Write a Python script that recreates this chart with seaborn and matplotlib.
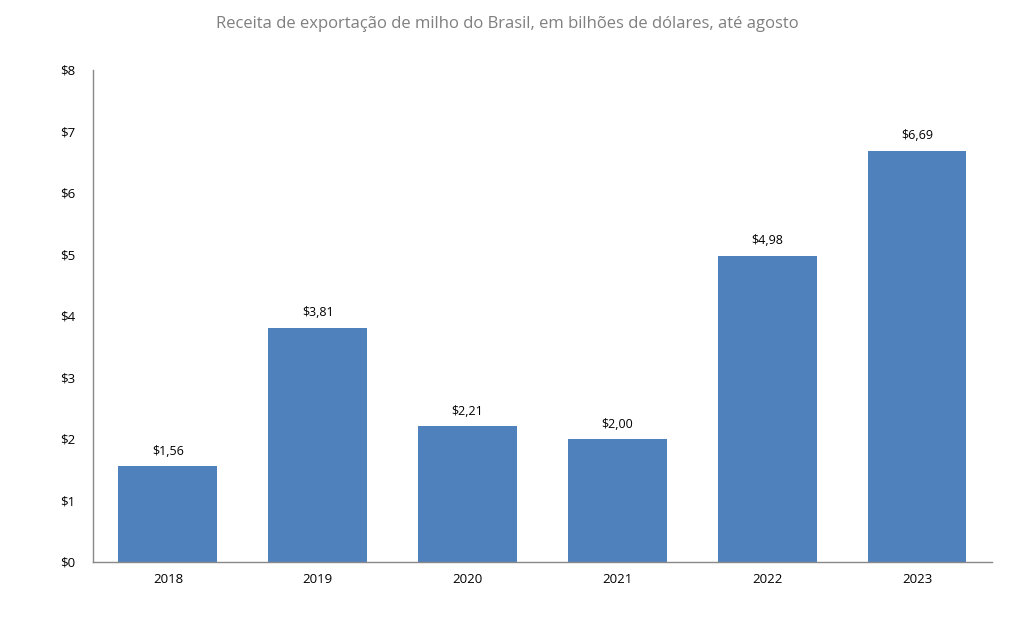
import seaborn as sns
import matplotlib.pyplot as plt
import pandas as pd

# Data
years = ['2018', '2019', '2020', '2021', '2022', '2023']
revenue = [1.56, 3.81, 2.21, 2.00, 4.98, 6.69]

df = pd.DataFrame({'Ano': years, 'Receita': revenue})

sns.set_style('white')
plt.rcParams['font.family'] = ['Open Sans', 'DejaVu Sans']

fig = plt.figure(figsize=(10.12, 6.31), dpi=100)
ax = fig.add_axes([0.0919, 0.1094, 0.8883, 0.7797])

sns.barplot(x='Ano', y='Receita', data=df, color='#4F81BD', saturation=1, width=0.66,
            linewidth=0, ax=ax)

# Value labels in Brazilian format
for i, v in enumerate(revenue):
    ax.annotate(f'${v:.2f}'.replace('.', ','), (i, v), xytext=(0, 6), textcoords='offset points',
                ha='center', va='bottom', fontsize=9, color='black')

ax.set_ylim(0, 8)
ax.set_xlim(-0.5, len(years) - 0.5)
ax.set_yticks(range(0, 9))
ax.set_yticklabels([f'${t}' for t in range(0, 9)])
ax.tick_params(axis='both', length=0, labelsize=9.5, colors='black')
ax.tick_params(axis='y', pad=13)
ax.tick_params(axis='x', pad=8)
ax.set_xlabel('')
ax.set_ylabel('')

for s in ['top', 'right']:
    ax.spines[s].set_visible(False)
for s in ['left', 'bottom']:
    ax.spines[s].set_color('#888888')
    ax.spines[s].set_linewidth(1)

fig.suptitle('Receita de exportação de milho do Brasil, em bilhões de dólares, até agosto',
             x=0.501, y=0.975, fontsize=12, color='#7F7F7F')

fig.savefig('out.png', dpi=100)
